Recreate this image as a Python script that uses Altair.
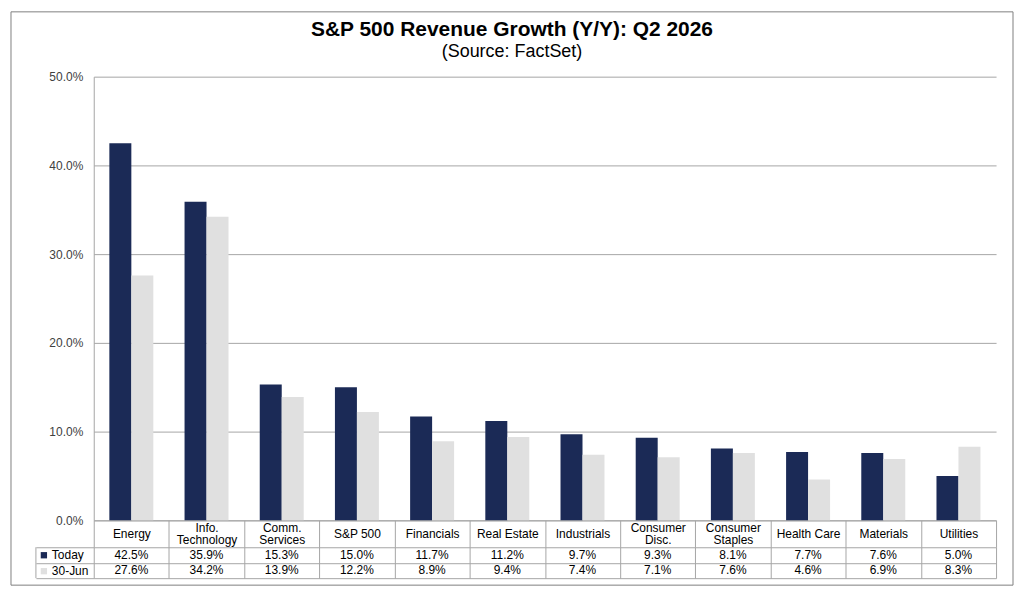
import altair as alt
import pandas as pd

categories = ["Energy", "Info.|Technology", "Comm.|Services", "S&P 500", "Financials",
              "Real Estate", "Industrials", "Consumer|Disc.", "Consumer|Staples",
              "Health Care", "Materials", "Utilities"]
today = [42.5, 35.9, 15.3, 15.0, 11.7, 11.2, 9.7, 9.3, 8.1, 7.7, 7.6, 5.0]
jun30 = [27.6, 34.2, 13.9, 12.2, 8.9, 9.4, 7.4, 7.1, 7.6, 4.6, 6.9, 8.3]
series = ["Today", "30-Jun"]
y_ticks = [0, 10, 20, 30, 40, 50]
colors = ["#1b2a56", "#e0e0e0"]

rows = []
for i, c in enumerate(categories):
    rows.append({"category": c, "series": series[0], "value": today[i]})
    rows.append({"category": c, "series": series[1], "value": jun30[i]})
df = pd.DataFrame(rows)
df["label"] = df["value"].map(lambda v: f"{v:.1f}%")

FONT = "Liberation Sans"
GRID = "#a6a6a6"
FRAME = "#7f7f7f"
FS = 12
W, H, TH = 905, 445, 31

bars = alt.Chart(df).mark_bar().encode(
    x=alt.X("category:N", sort=categories,
            scale=alt.Scale(paddingInner=0, paddingOuter=0),
            axis=alt.Axis(title=None, labelExpr="split(datum.label, '|')", labelAngle=0,
                          labelBaseline="middle",
                          labelPadding={"condition": {"test": "indexof(datum.label, '|') >= 0",
                                                      "value": -19.5},
                                        "value": -13.5},
                          labelFontSize=FS,
                          labelFont=FONT, labelColor="#000000", labelLineHeight=12,
                          tickBand="extent", tickSize=27, tickColor=GRID,
                          domainColor=GRID, labelLimit=0)),
    xOffset=alt.XOffset("series:N", sort=series,
                        scale=alt.Scale(paddingInner=0, paddingOuter=0.71)),
    y=alt.Y("value:Q", scale=alt.Scale(domain=[0, 50], nice=False),
            axis=alt.Axis(values=y_ticks, title=None,
                          labelExpr="format(datum.value, '.1f') + '%'",
                          ticks=False, labelPadding=11, gridColor=GRID,
                          domainColor=GRID, labelFontSize=FS, labelFont=FONT,
                          labelColor="#404040")),
    color=alt.Color("series:N", sort=series,
                    scale=alt.Scale(domain=series, range=colors),
                    legend=alt.Legend(orient="none", legendX=-56, legendY=474,
                                      title=None, symbolType="square", symbolSize=40,
                                      symbolStrokeWidth=0, labelFontSize=FS,
                                      labelFont=FONT, labelColor="#000000",
                                      rowPadding=4, padding=0, labelOffset=2)),
)

frame = alt.Chart(pd.DataFrame({"a": [0]})).mark_rect(
    fillOpacity=0, stroke=FRAME, strokeWidth=1
).encode(x=alt.value(-83), x2=alt.value(922), y=alt.value(-65), y2=alt.value(510))

top = alt.layer(bars, frame).properties(width=W, height=H)

table_base = alt.Chart(df).encode(
    x=alt.X("category:N", sort=categories,
            scale=alt.Scale(paddingInner=0, paddingOuter=0),
            axis=alt.Axis(title=None, labels=False, ticks=False, domain=False,
                          grid=True, tickBand="extent", gridColor=GRID)),
    y=alt.Y("series:N", sort=series,
            scale=alt.Scale(paddingInner=0, paddingOuter=0),
            axis=alt.Axis(title=None, labels=False, domain=False, grid=True,
                          ticks=True, tickBand="extent", tickSize=58,
                          tickColor=GRID, gridColor=GRID)),
)
table_text = table_base.mark_text(font=FONT, fontSize=FS, color="#000000",
                                  baseline="middle").encode(text="label:N")
left_rule = alt.Chart(pd.DataFrame({"a": [0]})).mark_rule(color=GRID).encode(
    x=alt.value(-58), y=alt.value(0), y2=alt.value(TH))

table = alt.layer(table_text, left_rule).properties(width=W, height=TH)

chart = alt.vconcat(top, table, spacing=27, bounds="flush").properties(
    title=alt.TitleParams(text="S&P 500 Revenue Growth (Y/Y):  Q2 2026",
                          subtitle="(Source: FactSet)", font=FONT, fontSize=21,
                          fontWeight="bold", color="#000000", subtitleFont=FONT,
                          subtitleFontSize=18, subtitleColor="#000000",
                          subtitlePadding=3, anchor="middle", offset=-50),
    padding=2, background="white",
).configure_view(stroke=None)

chart.save("out.html", embed_options={"renderer": "svg", "actions": False})
